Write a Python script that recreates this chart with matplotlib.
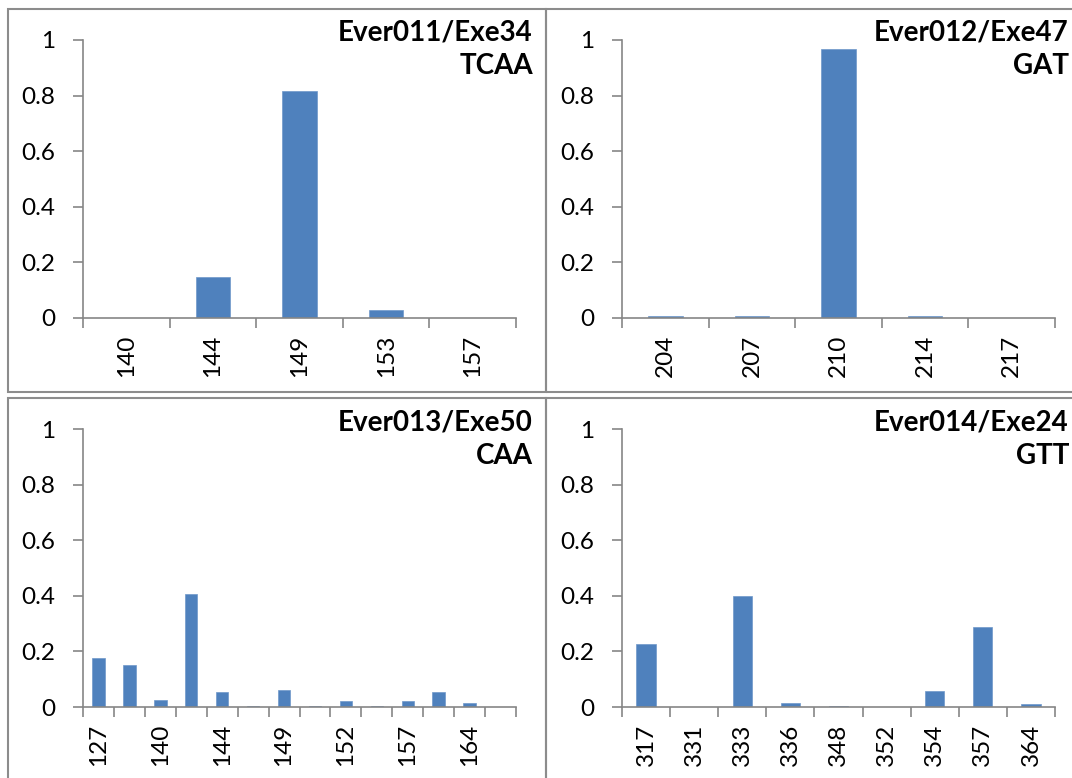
import numpy as np
import matplotlib
matplotlib.use("Agg")
import matplotlib.pyplot as plt
from matplotlib.patches import Rectangle

plt.rcParams['font.family'] = ['Lato', 'DejaVu Sans']

# allele sizes and frequencies for each locus
alleles_011 = ['140', '144', '149', '153', '157']
freq_011 = [0.0, 0.147, 0.817, 0.030, 0.0]

alleles_012 = ['204', '207', '210', '214', '217']
freq_012 = [0.008, 0.008, 0.968, 0.006, 0.0]

# only every other label is printed on this axis
alleles_013 = ['127', '136', '140', '142', '144', '147', '149',
               '150', '152', '155', '157', '160', '164', '167']
freq_013 = [0.178, 0.152, 0.026, 0.407, 0.053, 0.003, 0.061,
            0.004, 0.020, 0.002, 0.023, 0.055, 0.014, 0.0]

alleles_014 = ['317', '331', '333', '336', '348', '352', '354', '357', '364']
freq_014 = [0.227, 0.0, 0.399, 0.013, 0.005, 0.0, 0.056, 0.287, 0.011]

titles = [('Ever011/Exe34', 'TCAA'), ('Ever012/Exe47', 'GAT'),
          ('Ever013/Exe50', 'CAA'), ('Ever014/Exe24', 'GTT')]

W, H = 1072, 778
BAR = '#4F81BD'
AXC = '#868686'
TICK_FS = 17.5
TITLE_FS = 20
fig = plt.figure(figsize=(W / 100, H / 100), dpi=100)


def px_axes(x0, y0, x1, y1):
    return fig.add_axes([x0 / W, 1 - y1 / H, (x1 - x0) / W, (y1 - y0) / H])


def draw_panel(ax, labels, freqs, label_step=1):
    n = len(labels)
    x = np.arange(n)
    ax.bar(x, freqs, width=0.4, color=BAR, edgecolor='#6f97c9', linewidth=0.5)
    ax.set_xlim(-0.5, n - 0.5)
    ax.set_ylim(0, 1)
    ax.set_yticks([0, 0.2, 0.4, 0.6, 0.8, 1.0])
    ax.set_yticklabels(['0', '0.2', '0.4', '0.6', '0.8', '1'])
    ax.set_xticks(np.arange(n + 1) - 0.5)
    ax.set_xticklabels([])
    ax.set_xticks(x[::label_step], minor=True)
    ax.set_xticklabels(labels[::label_step], minor=True, rotation=90)
    ax.tick_params(axis='x', which='major', length=7, width=1.2, color=AXC, direction='out')
    ax.tick_params(axis='x', which='minor', length=0, pad=12, labelsize=TICK_FS)
    ax.tick_params(axis='y', length=7, width=1.2, color=AXC, direction='out', pad=13,
                   labelsize=TICK_FS)
    for s in ['top', 'right']:
        ax.spines[s].set_visible(False)
    for s in ['left', 'bottom']:
        ax.spines[s].set_color(AXC)
        ax.spines[s].set_linewidth(1.2)


# panel frames
for (x0, y0, x1, y1) in [(7.5, 8.5, 546, 392), (546, 8.5, 1085, 392),
                         (7.5, 398, 546, 782), (546, 398, 1085, 782)]:
    fig.patches.append(Rectangle((x0 / W, 1 - y1 / H), (x1 - x0) / W, (y1 - y0) / H,
                                 transform=fig.transFigure, fill=False,
                                 edgecolor='#8c8c8c', linewidth=1.5))

ax1 = px_axes(83, 40, 516, 318)
draw_panel(ax1, alleles_011, freq_011)
ax2 = px_axes(622, 40, 1055, 318)
draw_panel(ax2, alleles_012, freq_012)
ax3 = px_axes(83, 429, 516, 707)
draw_panel(ax3, alleles_013, freq_013, label_step=2)
ax4 = px_axes(622, 429, 1055, 707)
draw_panel(ax4, alleles_014, freq_014)

# panel titles (top right corner of each chart)
for i, (name, motif) in enumerate(titles):
    dy = 390 * (i // 2)
    xr = 1069 if i % 2 == 1 else 533
    fig.text(xr / W, 1 - (41 + dy) / H, name, ha='right', va='baseline',
             fontsize=TITLE_FS, fontweight='bold')
    fig.text(xr / W, 1 - (74 + dy) / H, motif, ha='right', va='baseline',
             fontsize=TITLE_FS, fontweight='bold')

fig.savefig('out.png', dpi=100)
